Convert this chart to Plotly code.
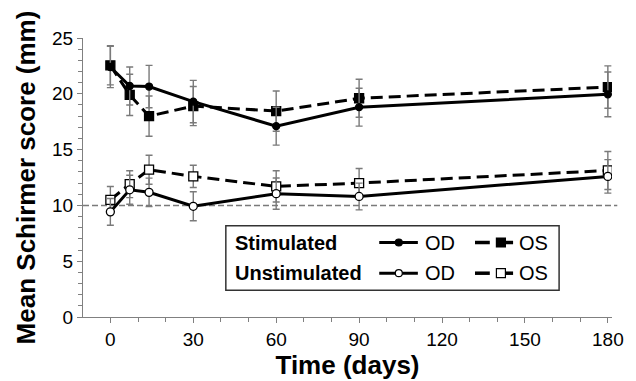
import plotly.graph_objects as go

days = [0, 7, 14, 30, 60, 90, 180]

stim_od = [22.4, 20.7, 20.65, 19.3, 17.1, 18.8, 19.95]
stim_od_err = [1.85, 1.7, 1.9, 1.9, 1.7, 1.7, 2.0]
stim_os = [22.55, 19.9, 18.0, 18.9, 18.45, 19.6, 20.6]
stim_os_err = [1.75, 1.85, 1.8, 1.75, 1.8, 1.7, 1.9]

unstim_od = [9.42, 11.4, 11.17, 9.92, 11.05, 10.8, 12.6]
unstim_od_err = [1.2, 1.3, 1.27, 1.3, 1.4, 1.2, 1.5]
unstim_os = [10.5, 11.9, 13.2, 12.6, 11.7, 12.0, 13.13]
unstim_os_err = [1.2, 1.2, 1.3, 1.0, 1.4, 1.3, 1.7]

reference_level = 10
x_ticks = [0, 30, 60, 90, 120, 150, 180]
y_ticks = [0, 5, 10, 15, 20, 25]

FONT = "Liberation Sans, Arial, sans-serif"
ERR = dict(type="data", thickness=1.4, width=3.5, color="#7a7a7a")

fig = go.Figure()

def add_series(y, err, dash, symbol, size, fill):
    fig.add_trace(go.Scatter(
        x=days, y=y, mode="lines+markers",
        error_y=dict(array=err, **ERR),
        line=dict(color="black", width=3, dash=dash),
        marker=dict(symbol=symbol, size=size, color=fill,
                    line=dict(color="black", width=1.3)),
        showlegend=False,
    ))

add_series(stim_os, stim_os_err, "12px,6px", "square", 9, "black")
add_series(stim_od, stim_od_err, "solid", "circle", 7, "black")
add_series(unstim_os, unstim_os_err, "12px,6px", "square", 9, "white")
add_series(unstim_od, unstim_od_err, "solid", "circle", 8, "white")

# reference line
fig.add_shape(type="line", xref="paper", x0=0, x1=1.01, yref="y",
              y0=reference_level, y1=reference_level,
              line=dict(color="#7a7a7a", width=1.5, dash="6px,3px"), layer="below")

# custom legend box
fig.add_shape(type="rect", xref="paper", yref="paper",
              x0=0.270, x1=0.900, y0=0.096, y1=0.327,
              line=dict(color="#333333", width=1.5), fillcolor="white", layer="below")

rows = [(0.267, "Stimulated", "black"), (0.157, "Unstimulated", "white")]
for yy, label, fill in rows:
    fig.add_annotation(xref="paper", yref="paper", x=0.284, y=yy, text="<b>%s</b>" % label,
                       showarrow=False, xanchor="left", yanchor="middle",
                       font=dict(family=FONT, size=20, color="black"))
    # OD sample
    fig.add_trace(go.Scatter(x=[0.560, 0.633], y=[yy, yy], xaxis="x2", yaxis="y2",
                             mode="lines", line=dict(color="black", width=3),
                             showlegend=False, hoverinfo="skip"))
    fig.add_trace(go.Scatter(x=[0.597], y=[yy], xaxis="x2", yaxis="y2", mode="markers",
                             marker=dict(symbol="circle", size=7,
                                         color=fill, line=dict(color="black", width=1.2)),
                             showlegend=False, hoverinfo="skip"))
    fig.add_annotation(xref="paper", yref="paper", x=0.643, y=yy, text="OD",
                       showarrow=False, xanchor="left", yanchor="middle",
                       font=dict(family=FONT, size=20, color="black"))
    # OS sample
    fig.add_trace(go.Scatter(x=[0.741, 0.769], y=[yy, yy], xaxis="x2", yaxis="y2",
                             mode="lines", line=dict(color="black", width=3.5),
                             showlegend=False, hoverinfo="skip"))
    fig.add_trace(go.Scatter(x=[0.790, 0.813], y=[yy, yy], xaxis="x2", yaxis="y2",
                             mode="lines", line=dict(color="black", width=3.5),
                             showlegend=False, hoverinfo="skip"))
    fig.add_trace(go.Scatter(x=[0.790], y=[yy], xaxis="x2", yaxis="y2", mode="markers",
                             marker=dict(symbol="square", size=9, color=fill,
                                         line=dict(color="black", width=1.2)),
                             showlegend=False, hoverinfo="skip"))
    fig.add_annotation(xref="paper", yref="paper", x=0.820, y=yy, text="OS",
                       showarrow=False, xanchor="left", yanchor="middle",
                       font=dict(family=FONT, size=20, color="black"))

axis_common = dict(showline=True, linecolor="#808080", linewidth=1.3,
                   ticks="outside", tickcolor="#808080", ticklen=5, tickwidth=1.2,
                   showgrid=False, zeroline=False,
                   tickfont=dict(family=FONT, size=19, color="black"))

# the page body adds an 8px margin, so the figure is 8px smaller and shifted accordingly
fig.update_layout(
    width=628, height=373,
    margin=dict(l=75, r=24, t=30, b=62),
    paper_bgcolor="white", plot_bgcolor="white",
    font=dict(family=FONT, color="black"),
    xaxis=dict(range=[-9.9, 181.5], tickvals=x_ticks,
               minor=dict(dtick=10, tick0=0, ticks="outside", ticklen=4, tickcolor="#808080"),
               title=dict(text="<b>Time (days)</b>", font=dict(family=FONT, size=26), standoff=1),
               **axis_common),
    yaxis=dict(range=[0, 25], tickvals=y_ticks,
               minor=dict(dtick=1, tick0=0, ticks="outside", ticklen=4, tickcolor="#808080"),
               title=dict(text="<b>Mean Schirmer score (mm)</b>", font=dict(family=FONT, size=26), standoff=8),
               **axis_common),
    xaxis2=dict(overlaying="x", range=[0, 1], visible=False, fixedrange=True),
    yaxis2=dict(overlaying="y", range=[0, 1], visible=False, fixedrange=True),
)

fig.write_html("out.html")
